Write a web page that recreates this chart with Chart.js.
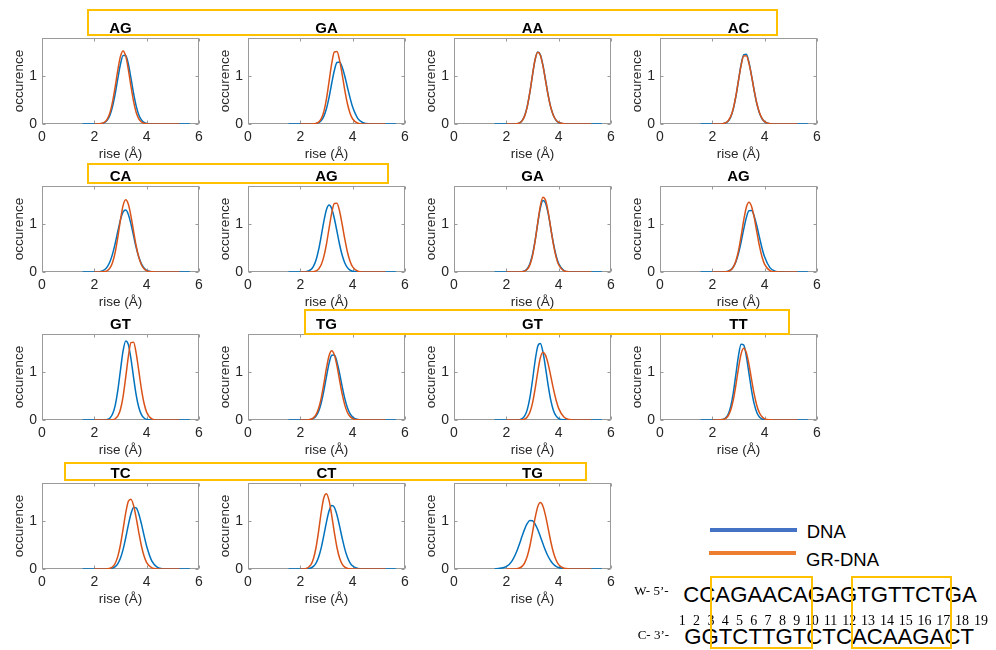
<!DOCTYPE html>
<html>
<head>
<meta charset="utf-8">
<script src="https://cdn.jsdelivr.net/npm/chart.js@4/dist/chart.umd.min.js"></script>
<style>
  html, body { margin: 0; padding: 0; background: #fff; }
  #fig { position: relative; width: 996px; height: 650px; overflow: hidden;
         font-family: "Liberation Sans", Arial, Helvetica, sans-serif; }
  .panel { position: absolute; }
  .panel canvas { display: block; }
  .hl { position: absolute; border: 2px solid #FFC000; box-sizing: border-box; z-index: 5; pointer-events: none; }
  .key { position: absolute; height: 4px; }
  .txt { position: absolute; white-space: nowrap; color: #000; }
  .seq { font-family: "Liberation Sans", Arial, sans-serif; font-size: 22.2px; line-height: 22.2px; }
  .strand { font-family: "Liberation Serif", "Times New Roman", serif; font-size: 13px; line-height: 13px; }
  .num { font-family: "Liberation Serif", "Times New Roman", serif; font-size: 14px; line-height: 14px; transform: translateX(-50%); }
  .lab { font-size: 18.5px; line-height: 18.5px; }
</style>
</head>
<body>
<div id="fig"></div>
<script>
// Shared rise grid (Å) on which every density curve is sampled
const riseGrid = [1.55, 2.0, 2.2, 2.4, 2.5, 2.6, 2.7, 2.8, 2.9, 3.0, 3.1, 3.2, 3.3, 3.4, 3.5, 3.6, 3.7, 3.8, 3.9, 4.0, 4.2, 4.4, 4.6, 5.0, 5.25, 5.65];

// Step titles, row by row
const stepTitles = ['AG', 'GA', 'AA', 'AC', 'CA', 'AG', 'GA', 'AG', 'GT', 'TG', 'GT', 'TT', 'TC', 'CT', 'TG'];

// Axis ticks
const xTickValues = [0, 2, 4, 6];
const yTickValues = [0, 1];

// Free DNA rise densities
const dna1  = [0,0,0.003,0.034,0.086,0.19,0.375,0.64,0.96,1.255,1.435,1.435,1.255,0.96,0.64,0.375,0.19,0.086,0.034,0.012,0.001,0,0,0,0,0];
const dna2  = [0,0,0,0,0.003,0.009,0.027,0.072,0.164,0.325,0.563,0.853,1.12,1.288,1.296,1.188,1.0,0.77,0.548,0.354,0.114,0.027,0.004,0,0,0];
const dna3  = [0,0,0,0.007,0.024,0.069,0.174,0.368,0.665,1.025,1.346,1.505,1.45,1.228,0.916,0.601,0.347,0.177,0.079,0.031,0.003,0,0,0,0,0];
const dna4  = [0,0,0,0.006,0.02,0.057,0.144,0.312,0.577,0.915,1.245,1.452,1.458,1.289,1.008,0.696,0.425,0.229,0.11,0.046,0.006,0,0,0,0,0];
const dna5  = [0,0.001,0.008,0.052,0.112,0.218,0.385,0.603,0.858,1.095,1.257,1.297,1.204,1.005,0.756,0.509,0.312,0.169,0.083,0.036,0.005,0,0,0,0,0];
const dna6  = [0,0,0.005,0.049,0.119,0.252,0.468,0.756,1.064,1.308,1.4,1.324,1.12,0.85,0.576,0.349,0.189,0.092,0.04,0.015,0.002,0,0,0,0,0];
const dna7  = [0,0,0,0,0.001,0.007,0.024,0.069,0.173,0.366,0.66,1.018,1.337,1.495,1.44,1.22,0.91,0.597,0.345,0.176,0.031,0.003,0,0,0,0];
const dna8  = [0,0,0,0.002,0.006,0.018,0.045,0.105,0.213,0.39,0.628,0.897,1.138,1.281,1.285,1.169,0.967,0.728,0.498,0.312,0.091,0.018,0.003,0,0,0];
const dna9  = [0,0,0,0.003,0.012,0.043,0.129,0.313,0.63,1.05,1.45,1.654,1.577,1.282,0.887,0.523,0.262,0.113,0.041,0.013,0.001,0,0,0,0,0];
const dna10 = [0,0,0.001,0.012,0.034,0.085,0.186,0.362,0.614,0.913,1.19,1.357,1.361,1.217,0.976,0.698,0.448,0.257,0.132,0.061,0.009,0.001,0,0,0,0];
const dna11 = [0,0,0,0.001,0.007,0.028,0.084,0.217,0.467,0.832,1.24,1.541,1.599,1.42,1.088,0.72,0.41,0.201,0.086,0.031,0.003,0,0,0,0,0];
const dna12 = [0,0,0,0.011,0.04,0.114,0.28,0.565,0.956,1.348,1.587,1.568,1.333,0.977,0.617,0.336,0.158,0.064,0.023,0.007,0,0,0,0,0,0];
const dna13 = [0,0,0,0,0.002,0.007,0.019,0.05,0.114,0.23,0.411,0.654,0.923,1.157,1.288,1.278,1.152,0.944,0.703,0.477,0.165,0.04,0.006,0,0,0];
const dna14 = [0,0,0.002,0.021,0.055,0.125,0.252,0.448,0.708,0.987,1.217,1.327,1.288,1.129,0.896,0.644,0.416,0.244,0.129,0.062,0.011,0.001,0,0,0,0];
const dna15 = [0.001,0.048,0.153,0.371,0.522,0.683,0.835,0.953,1.014,1.009,0.941,0.826,0.68,0.527,0.383,0.262,0.168,0.101,0.057,0.03,0.007,0.001,0,0,0,0];

// GR-bound DNA rise densities
const gr1  = [null,0,0.004,0.042,0.109,0.242,0.474,0.79,1.14,1.42,1.53,1.42,1.14,0.79,0.474,0.242,0.109,0.042,0.014,0.004,0,0,0,0,0,null];
const gr2  = [null,0,0,0,0.003,0.012,0.039,0.112,0.265,0.531,0.897,1.267,1.507,1.515,1.333,1.033,0.705,0.424,0.225,0.105,0.015,0.001,0,0,0,null];
const gr3  = [null,0,0,0.006,0.022,0.066,0.17,0.365,0.665,1.03,1.35,1.5,1.44,1.215,0.905,0.595,0.345,0.178,0.082,0.033,0.004,0,0,0,0,null];
const gr4  = [null,0,0,0.007,0.023,0.064,0.155,0.325,0.586,0.914,1.228,1.424,1.428,1.269,1.0,0.7,0.435,0.239,0.117,0.051,0.007,0,0,0,0,null];
const gr5  = [null,0,0,0.009,0.03,0.085,0.204,0.42,0.735,1.096,1.394,1.51,1.416,1.17,0.852,0.544,0.306,0.153,0.066,0.025,0.003,0,0,0,0,null];
const gr6  = [null,0,0,0.002,0.007,0.023,0.064,0.156,0.327,0.59,0.92,1.237,1.434,1.438,1.272,0.994,0.686,0.419,0.226,0.108,0.017,0.001,0,0,0,null];
const gr7  = [null,0,0,0,0.001,0.005,0.017,0.056,0.149,0.339,0.645,1.031,1.385,1.565,1.501,1.253,0.91,0.575,0.316,0.151,0.023,0.002,0,0,0,null];
const gr8  = [null,0,0,0.001,0.004,0.013,0.039,0.101,0.231,0.445,0.75,1.086,1.356,1.46,1.372,1.142,0.838,0.545,0.314,0.159,0.028,0.003,0,0,0,null];
const gr9  = [null,0,0,0,0,0.001,0.006,0.026,0.085,0.224,0.495,0.897,1.328,1.62,1.628,1.396,1.026,0.647,0.35,0.162,0.022,0.001,0,0,0,null];
const gr10 = [null,0,0.001,0.015,0.045,0.112,0.245,0.464,0.764,1.09,1.35,1.45,1.363,1.134,0.832,0.541,0.312,0.158,0.071,0.028,0.003,0,0,0,0,null];
const gr11 = [null,0,0,0,0.001,0.006,0.02,0.062,0.162,0.354,0.65,1.004,1.302,1.42,1.352,1.169,0.915,0.65,0.419,0.244,0.062,0.011,0.001,0,0,null];
const gr12 = [null,0,0,0.009,0.03,0.084,0.203,0.417,0.73,1.088,1.384,1.5,1.406,1.162,0.846,0.54,0.304,0.152,0.066,0.025,0.003,0,0,0,0,null];
const gr13 = [null,0,0,0.001,0.004,0.015,0.047,0.121,0.269,0.513,0.839,1.176,1.416,1.462,1.328,1.068,0.763,0.482,0.27,0.134,0.023,0.002,0,0,0,null];
const gr14 = [null,0,0.008,0.085,0.213,0.45,0.8,1.193,1.495,1.575,1.425,1.119,0.762,0.45,0.231,0.102,0.039,0.013,0.004,0.001,0,0,0,0,0,null];
const gr15 = [null,0,0,0.007,0.02,0.055,0.129,0.266,0.482,0.766,1.068,1.301,1.39,1.315,1.112,0.844,0.571,0.346,0.188,0.091,0.015,0.002,0,0,0,null];

const dnaSeries = [dna1, dna2, dna3, dna4, dna5, dna6, dna7, dna8, dna9, dna10, dna11, dna12, dna13, dna14, dna15];
const grSeries  = [gr1, gr2, gr3, gr4, gr5, gr6, gr7, gr8, gr9, gr10, gr11, gr12, gr13, gr14, gr15];

// Sequence annotation text
const watsonStrand = 'CCAGAACAGAGTGTTCTGA';
const crickStrand  = 'GGTCTTGTCTCACAAGACT';
const basePositions = ['1','2','3','4','5','6','7','8','9','10','11','12','13','14','15','16','17','18','19'];

const BLUE = '#0072BD', ORANGE = '#D95319';
const FONT = '"Liberation Sans", Arial, Helvetica, sans-serif';
Chart.defaults.font.family = FONT;

const fig = document.getElementById('fig');

// Panel grid: canvas origin; the axes box sits 42px right and 24px down inside it
const colLeft = [0, 206, 412, 618];
const rowTop  = [14, 162, 310, 459];
const CW = 215, CH = 155;

// MATLAB-style axes frame with inward tick marks
const axesFrame = {
  id: 'axesFrame',
  beforeDatasetsDraw(chart) {
    const { ctx, chartArea: a } = chart;
    const xs = chart.scales.x, ys = chart.scales.y;
    const l = Math.round(a.left) + 0.5, r = Math.round(a.right) - 0.5;
    const t = Math.round(a.top) + 0.5, b = Math.round(a.bottom) - 0.5;
    ctx.save();
    ctx.strokeStyle = '#9a9a9a';
    ctx.lineWidth = 1;
    ctx.strokeRect(l, t, r - l, b - t);
    ctx.beginPath();
    xTickValues.forEach(v => {
      const px = Math.round(xs.getPixelForValue(v)) + 0.5;
      ctx.moveTo(px, b); ctx.lineTo(px, b - 3);
      ctx.moveTo(px, t); ctx.lineTo(px, t + 3);
    });
    yTickValues.forEach(v => {
      const py = Math.round(ys.getPixelForValue(v)) + 0.5;
      ctx.moveTo(l, py); ctx.lineTo(l + 3, py);
      ctx.moveTo(r, py); ctx.lineTo(r - 3, py);
    });
    ctx.stroke();
    ctx.restore();
  }
};

function toPoints(ys) {
  return riseGrid.map((x, i) => ({ x: x, y: ys[i] }));
}

stepTitles.forEach((title, k) => {
  const row = Math.floor(k / 4), col = k % 4;
  const holder = document.createElement('div');
  holder.className = 'panel';
  holder.style.left = colLeft[col] + 'px';
  holder.style.top = rowTop[row] + 'px';
  const cv = document.createElement('canvas');
  cv.width = CW; cv.height = CH;
  holder.appendChild(cv);
  fig.appendChild(holder);

  new Chart(cv, {
    type: 'line',
    data: {
      datasets: [
        { label: 'DNA', data: toPoints(dnaSeries[k]), borderColor: BLUE, borderWidth: 1.5,
          pointRadius: 0, cubicInterpolationMode: 'monotone', order: 1, spanGaps: false },
        { label: 'GR-DNA', data: toPoints(grSeries[k]), borderColor: ORANGE, borderWidth: 1.5,
          pointRadius: 0, cubicInterpolationMode: 'monotone', order: 0, spanGaps: false }
      ]
    },
    options: {
      responsive: false,
      animation: false,
      events: [],
      layout: { padding: { left: 0, top: 0, right: 16, bottom: 0 } },
      plugins: {
        legend: { display: false },
        tooltip: { enabled: false },
        title: {
          display: true, text: title, fullSize: false, color: '#000',
          font: { size: 15, weight: 'bold', family: FONT, lineHeight: 1.0 },
          padding: { top: 7.8, bottom: 1.2 }
        }
      },
      scales: {
        x: {
          type: 'linear', min: 0, max: 6,
          afterBuildTicks: s => { s.ticks = xTickValues.map(v => ({ value: v })); },
          afterFit: s => { s.height = 45; },
          grid: { display: false, drawTicks: false },
          border: { display: false },
          ticks: { font: { size: 14, family: FONT }, color: '#262626', padding: 5, maxRotation: 0, autoSkip: false },
          title: { display: true, text: 'rise (Å)', color: '#262626',
                   font: { size: 13.5, family: FONT, lineHeight: 1.2 }, padding: { top: 0, bottom: 6.4 } }
        },
        y: {
          type: 'linear', min: 0, max: 1.8,
          afterBuildTicks: s => { s.ticks = yTickValues.map(v => ({ value: v })); },
          afterFit: s => { s.width = 42; },
          grid: { display: false, drawTicks: false },
          border: { display: false },
          ticks: { font: { size: 14, family: FONT }, color: '#262626', padding: 5 },
          title: { display: true, text: 'occurence', color: '#262626',
                   font: { size: 13.5, family: FONT, lineHeight: 1.2 }, padding: { top: 11.4, bottom: 0 } }
        }
      }
    },
    plugins: [axesFrame]
  });
});

// Highlight frames around step groups and binding half-sites
function frame(l, t, w, h) {
  const d = document.createElement('div');
  d.className = 'hl';
  d.style.left = l + 'px'; d.style.top = t + 'px';
  d.style.width = w + 'px'; d.style.height = h + 'px';
  fig.appendChild(d);
}
frame(87, 9, 691, 27);
frame(87, 162.5, 302, 21.5);
frame(304.3, 309.3, 485.7, 25.7);
frame(64.3, 461.7, 522.4, 19);
frame(710.3, 576, 102.7, 73);
frame(851, 576, 101, 73);

function text(cls, str, l, t) {
  const d = document.createElement('div');
  d.className = 'txt ' + cls;
  d.textContent = str;
  d.style.left = l + 'px'; d.style.top = t + 'px';
  fig.appendChild(d);
  return d;
}

// Legend
function keyLine(color, l, t, w) {
  const d = document.createElement('div');
  d.className = 'key';
  d.style.background = color;
  d.style.left = l + 'px'; d.style.top = t + 'px'; d.style.width = w + 'px';
  fig.appendChild(d);
}
keyLine('#4472C4', 710, 528, 87);
keyLine('#ED7D31', 709, 550.5, 87);
text('lab', 'DNA', 806.7, 522.6);
text('lab', 'GR-DNA', 806, 551);

// Sequence with numbering
text('strand', 'W- 5\u2019-', 634.3, 584.4);
text('seq', watsonStrand, 683.3, 584.1);
text('strand', 'C- 3\u2019-', 637.7, 627.8);
text('seq', crickStrand, 684.3, 626.1);
basePositions.forEach((n, i) => {
  const cx = i < 9 ? 682.3 + i * 14.3 : 811.7 + (i - 9) * 18.8;
  text('num', n, cx, 613.6);
});
</script>
</body>
</html>
